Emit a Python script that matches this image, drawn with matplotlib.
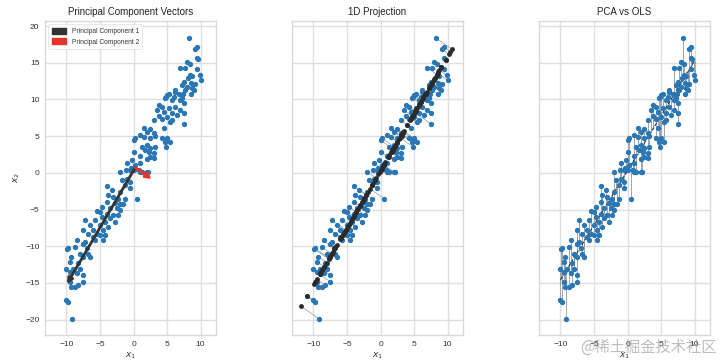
import numpy as np
import matplotlib.pyplot as plt
from matplotlib.patches import Patch

plt.rcParams['font.family'] = ['Liberation Sans', 'DejaVu Sans']

# points (x1, x2)
x1 = [8.25, 9.4, 9.1, 9.4, 9.6, 8.0, 8.35, 7.0, 7.75, 9.5, 8.4, 8.65, 9.85, 8.15,
      10.0, 7.5, 8.5, 9.1, 7.25, 8.0, 8.75, 7.75, 9.0, 6.25, 6.75, 7.4, 8.5, 5.0,
      6.0, 7.25, 4.85, 5.3, 6.25,
      4.75, 5.75, 7.0, 7.5, 3.75, 4.25, 5.25, 6.25, 7.0, 3.5, 4.5, 5.75, 6.5, 7.5,
      3.75, 5.0, 3.0, 4.25, 5.5, 5.75, 4.5, 1.5, 2.0, 2.5, 1.0, 1.5, 3.0, 3.25,
      2.5, 0.25, 0.0, 4.25, 5.0, 4.75, 1.25, 2.0, 2.5, 1.75, 2.25, 3.25, 3.0, 0.0,
      1.0, 2.5, 2.0, 3.0, -0.25, -1.0, 0.25, 1.0, -0.5, 0.75, 1.25, 2.0, 7.5,
      4.85, 5.5,
      -2.0, -1.1, -0.35, 0.0, 1.0, 2.1, -1.75, -1.0, -0.5, -1.25, -3.9, -0.5,
      -3.25, -2.0, 0.5, -3.75, -3.0, -2.25, -1.25, -4.0, -2.75, -2.0, -1.5, -4.75,
      -3.5, -2.5, -2.0, -5.5, -5.0, -4.0, -3.0, -2.25, -4.75, -3.5, -7.25, -5.75,
      -4.25, -2.75, -6.5, -5.0, -3.75, -7.5, -6.0, -4.5, -6.75, -5.5, -4.25, -8.5,
      -7.25, -5.75, -4.5,
      -6.0, -5.0, -7.5, -9.75, -8.75, -7.0, -8.0, -6.75, -9.25, -7.5, -6.5, -9.5,
      -8.25, -10.0, -9.0, -8.0, -9.5, -8.5, -7.5, -9.5, -7.5, -9.25, -8.75, -8.25,
      -10.0, -9.75, -9.1, -9.85]
x2 = [18.4, 17.2, 16.9, 15.6, 15.5, 15.1, 14.8, 14.3, 14.3, 14.2, 13.4, 13.2, 13.3,
      12.9, 12.6, 12.4, 12.3, 12.1, 12.0, 11.7, 11.6, 11.3, 11.3, 11.05, 10.8, 10.7,
      10.8, 10.6, 10.4, 10.2, 10.4, 10.8, 11.3,
      10.2, 9.9, 9.9, 9.5, 9.3, 9.0, 8.9, 9.0, 8.55, 8.55, 8.3, 8.1, 7.9, 8.1, 7.8,
      7.6, 7.2, 7.4, 6.9, 7.2, 6.1, 6.05, 5.6, 5.95, 5.2, 4.9, 5.4, 5.05, 4.8, 4.7,
      4.45, 4.7, 4.7, 4.2, 3.55, 3.8, 3.4, 3.1, 2.9, 3.55, 2.65, 2.9, 2.3, 2.2,
      1.95, 2.05, 1.7, 1.3, 1.05, 1.3, 0.35, 0.35, 0.05, 0.05, 6.7, 3.55, 4.2,
      0.15, 0.35, 0.6, 0.35, 0.15, 0.05, -1.0, -0.85, -1.2, -1.7, -1.8, -2.05,
      -2.35, -2.6, -3.5, -3.05, -3.25, -3.5, -3.5, -3.95, -4.05, -4.3, -4.2, -4.6,
      -4.8, -4.85, -5.1, -5.2, -5.3, -5.55, -5.8, -5.8, -6.0, -6.2, -6.45, -6.45,
      -6.7, -6.7, -7.15, -7.15, -7.35, -7.8, -7.8, -7.8, -8.3, -8.3, -8.5, -9.2,
      -9.4, -9.2, -9.2,
      -8.7, -8.5, -9.65, -10.3, -10.1, -10.3, -11.0, -11.0, -11.45, -11.45, -11.45,
      -12.1, -12.35, -13.05, -13.05, -13.05, -13.5, -13.7, -13.95, -14.85, -14.85,
      -15.55, -15.55, -15.3, -17.35, -17.6, -19.95, -10.4]

titles = ['Principal Component Vectors', '1D Projection', 'PCA vs OLS']
legend_labels = ['Principal Component 1', 'Principal Component 2']
x_ticks = [-10, -5, 0, 5, 10]
y_ticks = [-20, -15, -10, -5, 0, 5, 10, 15, 20]

X = np.column_stack([x1, x2])
mean = X.mean(axis=0)
Xc = X - mean
vals, vecs = np.linalg.eigh(np.cov(Xc.T))
order = np.argsort(vals)[::-1]
vals, vecs = vals[order], vecs[:, order]
pc1, pc2 = vecs[:, 0], vecs[:, 1]
if pc1[0] > 0:
    pc1 = -pc1
if pc2[0] < 0:
    pc2 = -pc2

# projection on the first component
t = Xc @ pc1
proj = mean + np.outer(t, pc1)
pca_slope = pc1[1] / pc1[0]
pca_y = mean[1] + pca_slope * (np.array(x1) - mean[0])

# OLS fit
slope, icept = np.polyfit(x1, x2, 1)
ols_y = slope * np.array(x1) + icept

blue = '#2a77b4'
fig = plt.figure(figsize=(7.24, 3.6), dpi=100)
lefts = [45, 292, 539]
axes = [fig.add_axes([l / 724, 25 / 360, 171 / 724, 314 / 360]) for l in lefts]

for ax, title in zip(axes, titles):
    ax.set_facecolor('white')
    ax.grid(True, color='#dedede', lw=1.0)
    ax.set_axisbelow(True)
    for sp in ax.spines.values():
        sp.set_color('#d8d8d8')
        sp.set_linewidth(1.0)
    ax.set_xlim(-13.2, 12.3)
    ax.set_ylim(-22.1, 20.7)
    ax.set_xticks(x_ticks)
    ax.set_yticks(y_ticks)
    ax.tick_params(length=0, labelsize=6, colors='#333333', pad=4)
    ax.set_title(title, fontsize=7, color='#222222', pad=4)
    ax.set_xlabel('$x_1$', fontsize=6.5, color='#333333', labelpad=2)

axes[0].set_ylabel('$x_2$', fontsize=6.5, color='#333333', labelpad=2)
for ax in axes[1:]:
    ax.set_yticklabels([])

# panel 1: data with component vectors (arrow length ~ k * std along the component)
ax = axes[0]
ax.scatter(x1, x2, s=8, color=blue, zorder=2)
arrow_k = [1.75, 2.4]
pc_colors = ['#333333', '#e8322a']
for vec, var, col, k in zip([pc1, pc2], vals, pc_colors, arrow_k):
    tip = mean + vec * np.sqrt(var) * k
    ax.annotate('', xy=tip, xytext=mean,
                arrowprops=dict(arrowstyle='-|>', color=col, lw=2.0, mutation_scale=8,
                                shrinkA=0, shrinkB=0), zorder=3)
handles = [Patch(color=c, label=l) for c, l in zip(pc_colors, legend_labels)]
leg = ax.legend(handles=handles, loc='upper left', fontsize=4.8, frameon=True,
                handlelength=2.2, handleheight=1.0, borderpad=0.5, labelspacing=0.5)
leg.get_frame().set_edgecolor('#dddddd')
leg.get_frame().set_linewidth(0.6)
for txt in leg.get_texts():
    txt.set_color('#333333')

# panel 2: projection onto PC1
ax = axes[1]
for (a, b), (pa, pb) in zip(X, proj):
    ax.plot([a, pa], [b, pb], color='#8a9bb0', lw=0.5, zorder=1)
ax.scatter(x1, x2, s=8, color=blue, zorder=2)
ax.scatter(proj[:, 0], proj[:, 1], s=6, color='#2b2b2b', zorder=3)

# panel 3: vertical residuals to the OLS line and to the PCA line
ax = axes[2]
for a, b, oy, py in zip(x1, x2, ols_y, pca_y):
    ax.plot([a, a], [b, oy], color='#9098a4', lw=0.7, zorder=1)
    ax.plot([a, a], [b, py], color='#b4bcc8', lw=0.7, ls=':', zorder=1)
xs = np.array([min(x1), max(x1)])
ax.plot(xs, slope * xs + icept, color='#222222', lw=0.7, ls='--', zorder=1.5)
ax.scatter(x1, x2, s=8, color=blue, zorder=2)

fig.text(0.99, 0.035, '@稀土掘金技术社区', ha='right', va='center', fontsize=11,
         color='#888888', alpha=0.55, family=['Noto Sans CJK SC', 'DejaVu Sans'])

fig.savefig('out.png', dpi=100, facecolor='white')
